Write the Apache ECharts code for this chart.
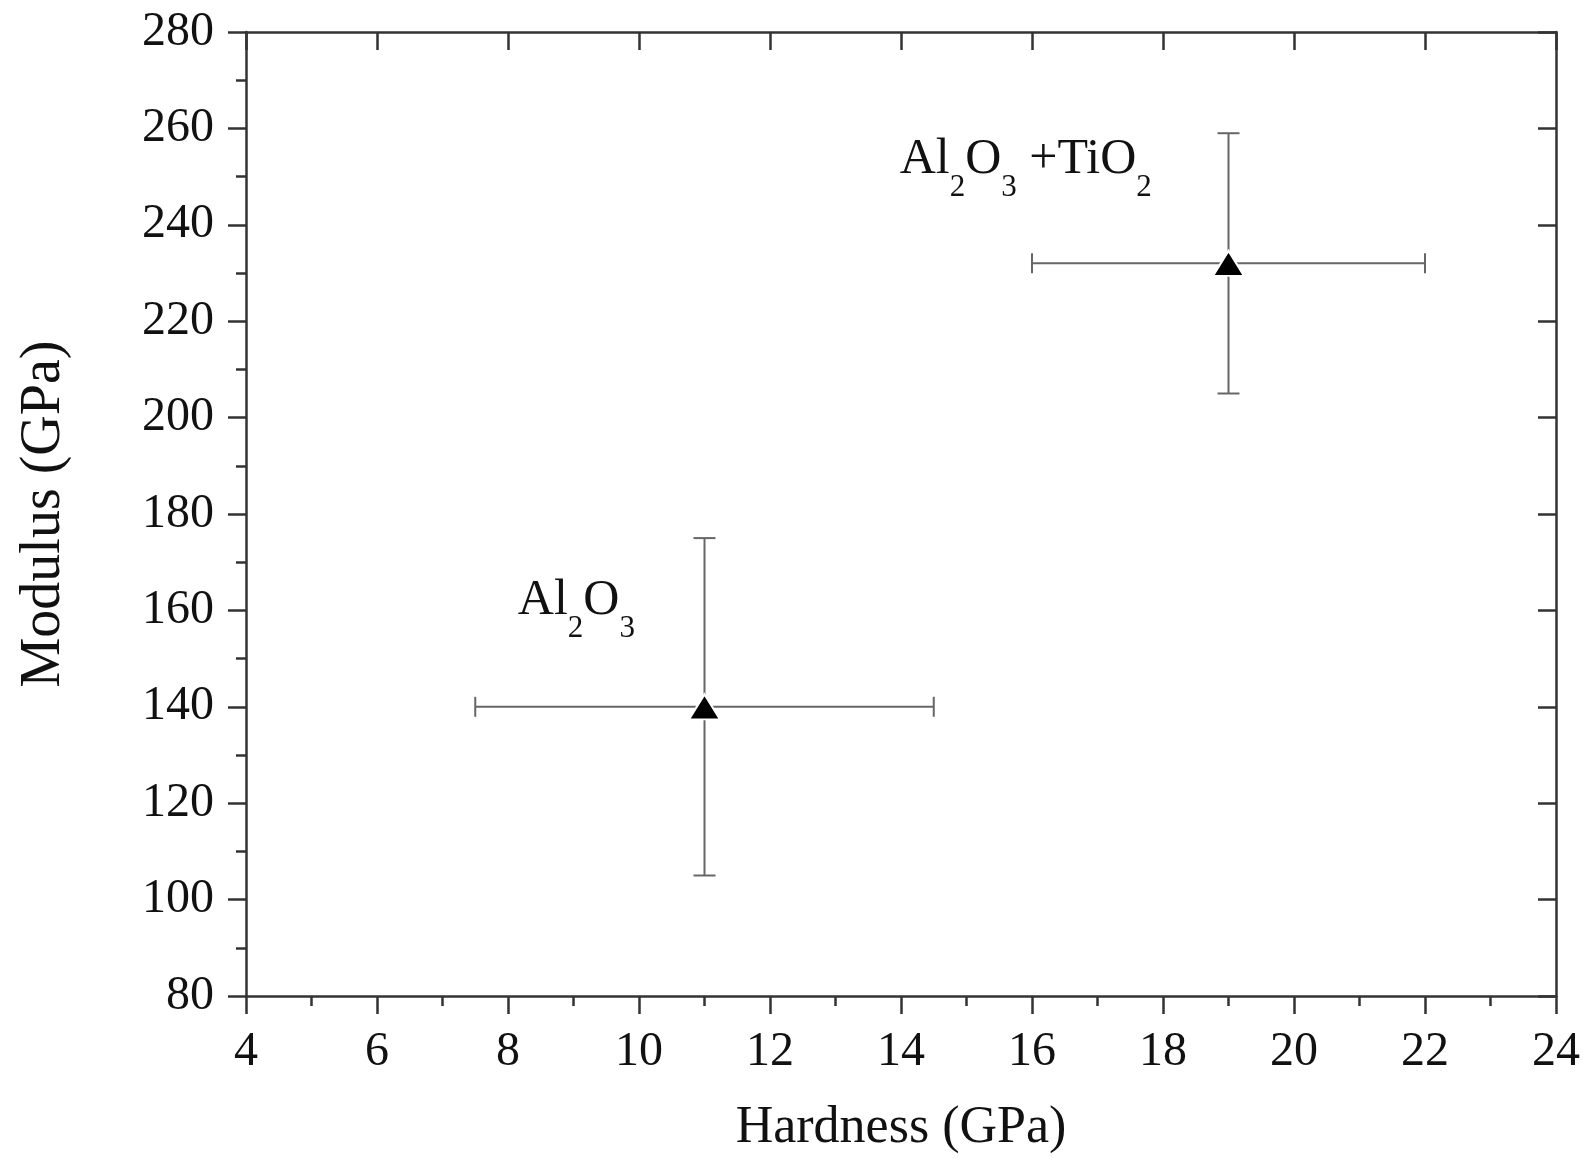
<!DOCTYPE html>
<html>
<head>
<meta charset="utf-8">
<script src="https://cdn.jsdelivr.net/npm/echarts@6/dist/echarts.min.js"></script>
<style>
html,body{margin:0;padding:0;background:#fff;}
#chart{width:1587px;height:1158px;}
</style>
</head>
<body>
<div id="chart"></div>
<script>
// ---- data ----
var samples = ['Al2O3', 'Al2O3+TiO2'];
var hardness = [11, 19];
var hardnessLow = [7.5, 16];
var hardnessHigh = [14.5, 22];
var modulus = [140, 232];
var modulusLow = [105, 205];
var modulusHigh = [175, 259];
var xTicks = [4, 24, 2];     // min, max, interval
var yTicks = [80, 280, 20];  // min, max, interval
var labelTexts = ['{n|Al}{s|2}{n|O}{s|3}', '{n|Al}{s|2}{n|O}{s|3}{n| +TiO}{s|2}'];
var labelAnchorX = [8.15, 13.98];
var labelAnchorY = [161, 252.5];

var FONT = 'Liberation Serif';
var TXT = '#111';

var errData = hardness.map(function (h, i) {
  return [h, modulus[i], hardnessLow[i], hardnessHigh[i], modulusLow[i], modulusHigh[i]];
});
var pointData = hardness.map(function (h, i) { return [h, modulus[i]]; });
var labelData = labelAnchorX.map(function (x, i) {
  return { value: [x, labelAnchorY[i]], label: { formatter: labelTexts[i] } };
});

function renderErr(params, api) {
  var x = api.value(0), y = api.value(1);
  var xl = api.coord([api.value(2), y]);
  var xh = api.coord([api.value(3), y]);
  var yl = api.coord([x, api.value(4)]);
  var yh = api.coord([x, api.value(5)]);
  var hc = 10, vc = 11;
  var st = { stroke: '#666', lineWidth: 2 };
  return {
    type: 'group',
    children: [
      { type: 'line', shape: { x1: xl[0], y1: xl[1], x2: xh[0], y2: xh[1] }, style: st },
      { type: 'line', shape: { x1: xl[0], y1: xl[1] - hc, x2: xl[0], y2: xl[1] + hc }, style: st },
      { type: 'line', shape: { x1: xh[0], y1: xh[1] - hc, x2: xh[0], y2: xh[1] + hc }, style: st },
      { type: 'line', shape: { x1: yl[0], y1: yl[1], x2: yh[0], y2: yh[1] }, style: st },
      { type: 'line', shape: { x1: yl[0] - vc, y1: yl[1], x2: yl[0] + vc, y2: yl[1] }, style: st },
      { type: 'line', shape: { x1: yh[0] - vc, y1: yh[1], x2: yh[0] + vc, y2: yh[1] }, style: st }
    ]
  };
}

var axisLine = { show: true, lineStyle: { color: '#333', width: 2.5 } };

var chart = echarts.init(document.getElementById('chart'), null, { renderer: 'canvas' });
chart.setOption({
  backgroundColor: '#fff',
  animation: false,
  grid: { left: 246, right: 31, top: 32, bottom: 162, containLabel: false, outerBoundsMode: 'none' },
  xAxis: [{
    type: 'value', min: xTicks[0], max: xTicks[1], interval: xTicks[2],
    position: 'bottom',
    name: 'Hardness (GPa)', nameLocation: 'middle', nameGap: 106,
    nameTextStyle: { fontFamily: FONT, fontSize: 52, color: TXT },
    axisLine: axisLine,
    axisTick: { show: true, inside: false, length: 18, lineStyle: { color: '#333', width: 2.5 } },
    minorTick: { show: true, splitNumber: 2, length: 10, lineStyle: { color: '#333', width: 2.5 } },
    axisLabel: { fontFamily: FONT, fontSize: 48, color: TXT, margin: 32 },
    splitLine: { show: false }
  }, {
    type: 'value', min: xTicks[0], max: xTicks[1], interval: xTicks[2],
    position: 'top',
    axisLine: axisLine,
    axisTick: { show: true, inside: true, length: 18, lineStyle: { color: '#333', width: 2.5 } },
    axisLabel: { show: false },
    splitLine: { show: false }
  }],
  yAxis: [{
    type: 'value', min: yTicks[0], max: yTicks[1], interval: yTicks[2],
    position: 'left',
    name: 'Modulus (GPa)', nameLocation: 'middle', nameGap: 174,
    nameTextStyle: { fontFamily: FONT, fontSize: 56, color: TXT },
    axisLine: axisLine,
    axisTick: { show: true, inside: false, length: 18, lineStyle: { color: '#333', width: 2.5 } },
    minorTick: { show: true, splitNumber: 2, length: 10, lineStyle: { color: '#333', width: 2.5 } },
    axisLabel: { fontFamily: FONT, fontSize: 48, color: TXT, margin: 32 },
    splitLine: { show: false }
  }, {
    type: 'value', min: yTicks[0], max: yTicks[1], interval: yTicks[2],
    position: 'right',
    axisLine: axisLine,
    axisTick: { show: true, inside: true, length: 18, lineStyle: { color: '#333', width: 2.5 } },
    axisLabel: { show: false },
    splitLine: { show: false }
  }],
  series: [{
    name: 'error', type: 'custom', renderItem: renderErr, data: errData, z: 2,
    encode: { x: 0, y: 1 }
  }, {
    name: 'points', type: 'scatter', data: pointData, z: 3,
    symbol: 'triangle', symbolSize: [31, 25],
    itemStyle: { color: '#000', borderColor: '#fff', borderWidth: 2, opacity: 1 }
  }, {
    name: 'labels', type: 'scatter', data: labelData, z: 4,
    symbolSize: 0, silent: true,
    itemStyle: { opacity: 1 },
    label: {
      show: true, position: 'right', distance: 0, opacity: 1,
      fontFamily: FONT, color: TXT,
      rich: {
        n: { fontFamily: FONT, fontSize: 50, color: TXT, lineHeight: 60, verticalAlign: 'top' },
        s: { fontFamily: FONT, fontSize: 31, color: TXT, lineHeight: 31, padding: [38, 0, 0, 0], verticalAlign: 'top' }
      }
    }
  }]
});
</script>
</body>
</html>
